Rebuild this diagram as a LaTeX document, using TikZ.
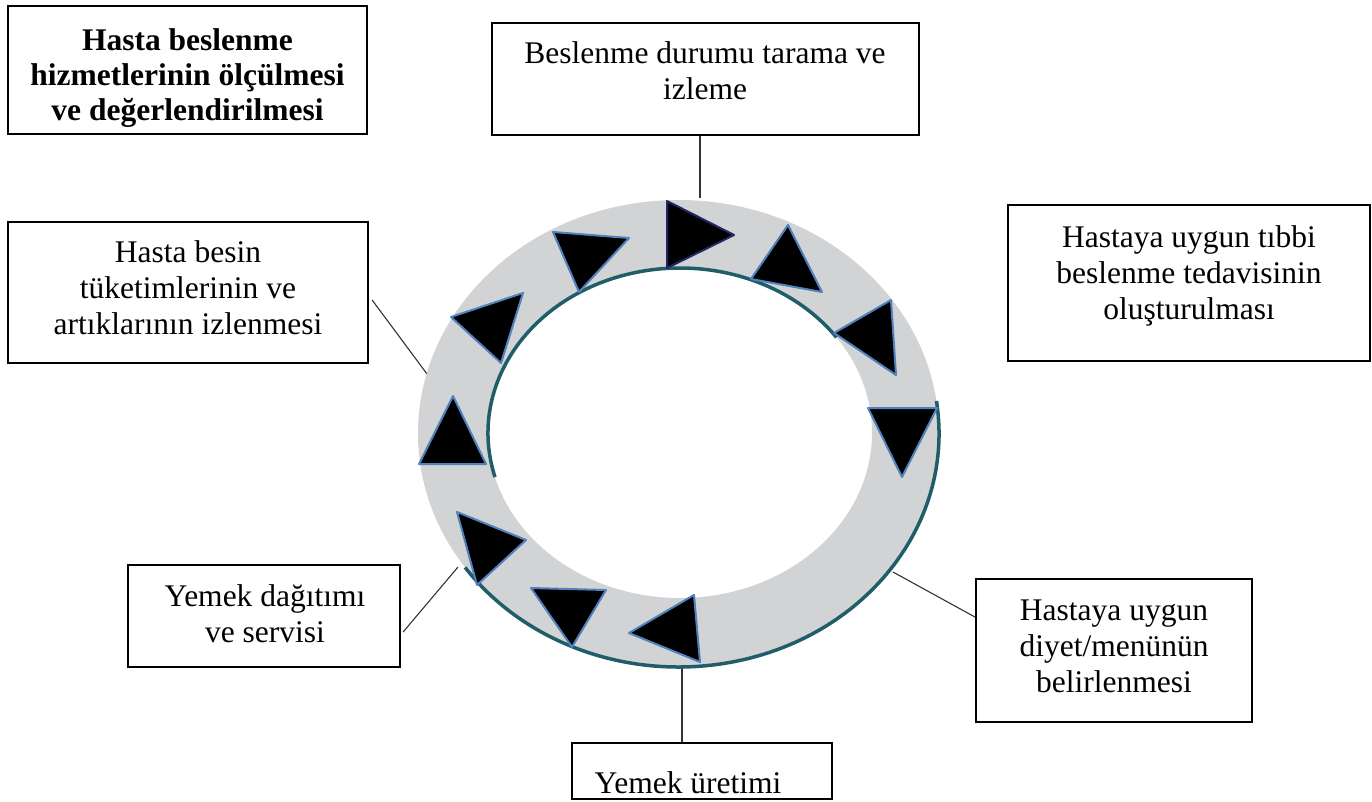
\documentclass[tikz,border=0pt]{standalone}
\usepackage{fontspec}
\setmainfont{Liberation Serif}
\usetikzlibrary{positioning,calc}

\definecolor{ringgray}{RGB}{209,211,212}
\definecolor{ringteal}{RGB}{31,93,104}
\definecolor{edgeblue}{RGB}{79,129,189}
\definecolor{edgenavy}{RGB}{31,40,100}

\begin{document}
\begin{tikzpicture}[x=1pt,y=-1pt,
  box/.style={draw, rectangle, line width=2.2pt, inner sep=0pt},
  txt/.style={align=center, inner sep=0pt, anchor=base, font=\fontsize{31.5}{36}\selectfont},
  conn/.style={draw=black!80, line width=1.1pt},
  tri/.style={fill=black, draw=edgeblue, line width=2pt, line join=round}]

\useasboundingbox (0,0) rectangle (1372,801);

% Boxes
\node[box, minimum width=359pt, minimum height=128pt] (olc) at (187.5,70) {};
\node[box, minimum width=427pt, minimum height=112pt] (scr) at (705.5,79) {};
\node[box, minimum width=362pt, minimum height=156pt] (tib) at (1189,283) {};
\node[box, minimum width=360pt, minimum height=141pt] (izl) at (188,292.5) {};
\node[box, minimum width=272pt, minimum height=102pt] (dag) at (264,616) {};
\node[box, minimum width=276pt, minimum height=143pt] (diy) at (1114,650.5) {};
\node[box, minimum width=260pt, minimum height=56pt] (ure) at (702,771) {};

% Box texts (base = last line)
\node[txt, font=\fontsize{31.5}{35}\selectfont\bfseries] (olct) at (187.5,120) {Hasta beslenme\\hizmetlerinin ölçülmesi\\ve değerlendirilmesi};
\node[txt] (scrt) at (705,99) {Beslenme durumu tarama ve\\izleme};
\node[txt] (tibt) at (1189,319) {Hastaya uygun tıbbi\\beslenme tedavisinin\\oluşturulması};
\node[txt] (izlt) at (188,334) {Hasta besin\\tüketimlerinin ve\\artıklarının izlenmesi};
\node[txt] (dagt) at (265,642) {Yemek dağıtımı\\ve servisi};
\node[txt] (diyt) at (1114,692) {Hastaya uygun\\diyet/menünün\\belirlenmesi};
\node[txt] (uret) at (688,793) {Yemek üretimi};

% Points on the ring
\coordinate (ringN) at (700,198);
\coordinate (ringW) at (430,378);
\coordinate (ringSW) at (458,567);
\coordinate (ringSE) at (893,572);
\coordinate (ringS) at (682,666);

% Connectors
\draw[conn] (scr.south -| ringN) -- (ringN);
\draw[conn] ([xshift=3pt,yshift=-7.5pt]izl.east) -- (ringW);
\draw[conn] ([xshift=2pt,yshift=-16pt]dag.east) -- (ringSW);
\draw[conn] ([yshift=33.5pt]diy.west) -- (ringSE);
\draw[conn] (ringS) -- (ringS |- ure.north);

% Ring
\fill[ringgray, even odd rule] (678.5,433.5) ellipse [x radius=260.5, y radius=233.5]
  (680,433) ellipse [x radius=192, y radius=165];
\draw[ringteal, line width=3.5pt] (678.5,433.5) ++(-8:260.5 and 233.5)
  arc[start angle=-8, end angle=145, x radius=260.5, y radius=233.5];
\draw[ringteal, line width=3.5pt] (680,433) ++(164.5:192 and 165)
  arc[start angle=164.5, end angle=324.6, x radius=192, y radius=165];

% Arrow heads round the ring
\draw[tri, draw=edgenavy] (667,201) -- (667,268) -- (734,235) -- cycle;
\draw[tri] (751,279) -- (788,225) -- (822,292) -- cycle;
\draw[tri] (834,333) -- (891,300) -- (896,375) -- cycle;
\draw[tri] (868,408) -- (937,408) -- (902,477) -- cycle;
\draw[tri] (629,633) -- (694,595) -- (700,662) -- cycle;
\draw[tri] (531,588) -- (606,590) -- (572,647) -- cycle;
\draw[tri] (457,512) -- (526,540) -- (477,585) -- cycle;
\draw[tri] (419,464) -- (486,464) -- (453,396) -- cycle;
\draw[tri] (451,317) -- (523,293) -- (501,363) -- cycle;
\draw[tri] (553,232) -- (629,238) -- (579,292) -- cycle;

\end{tikzpicture}
\end{document}
